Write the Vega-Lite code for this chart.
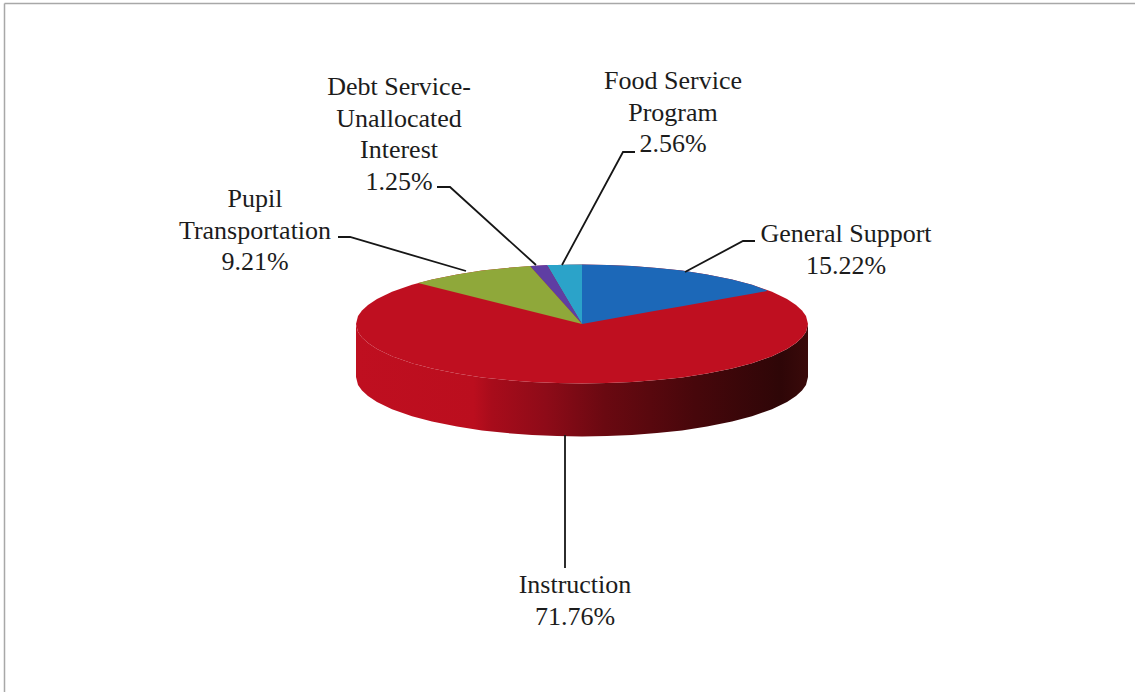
{
"$schema":"https://vega.github.io/schema/vega-lite/v6.json",
"width":1139,"height":692,"padding":0,"autosize":{"type":"none"},
"background":"#ffffff","view":{"stroke":null},
"datasets":{
"rim":[{"x":-226,"upper":0,"lower":0},{"x":-224,"upper":7.9,"lower":-7.9},{"x":-220,"upper":13.6,"lower":-13.6},{"x":-214,"upper":19.1,"lower":-19.1},{"x":-205,"upper":25,"lower":-25},{"x":-190,"upper":32.2,"lower":-32.2},{"x":-170,"upper":39.2,"lower":-39.2},{"x":-150,"upper":44.5,"lower":-44.5},{"x":-125,"upper":49.6,"lower":-49.6},{"x":-100,"upper":53.4,"lower":-53.4},{"x":-75,"upper":56.1,"lower":-56.1},{"x":-50,"upper":58,"lower":-58},{"x":-25,"upper":59.1,"lower":-59.1},{"x":0,"upper":59.5,"lower":-59.5},{"x":25,"upper":59.1,"lower":-59.1},{"x":50,"upper":58,"lower":-58},{"x":75,"upper":56.1,"lower":-56.1},{"x":100,"upper":53.4,"lower":-53.4},{"x":125,"upper":49.6,"lower":-49.6},{"x":150,"upper":44.5,"lower":-44.5},{"x":170,"upper":39.2,"lower":-39.2},{"x":190,"upper":32.2,"lower":-32.2},{"x":205,"upper":25,"lower":-25},{"x":214,"upper":19.1,"lower":-19.1},{"x":220,"upper":13.6,"lower":-13.6},{"x":224,"upper":7.9,"lower":-7.9},{"x":226,"upper":0,"lower":0}],
"side":[{"x":-226,"upper":0,"lower":-53},{"x":-224,"upper":-7.9,"lower":-60.9},{"x":-220,"upper":-13.6,"lower":-66.6},{"x":-214,"upper":-19.1,"lower":-72.1},{"x":-205,"upper":-25,"lower":-78},{"x":-190,"upper":-32.2,"lower":-85.2},{"x":-170,"upper":-39.2,"lower":-92.2},{"x":-150,"upper":-44.5,"lower":-97.5},{"x":-125,"upper":-49.6,"lower":-102.6},{"x":-100,"upper":-53.4,"lower":-106.4},{"x":-75,"upper":-56.1,"lower":-109.1},{"x":-50,"upper":-58,"lower":-111},{"x":-25,"upper":-59.1,"lower":-112.1},{"x":0,"upper":-59.5,"lower":-112.5},{"x":25,"upper":-59.1,"lower":-112.1},{"x":50,"upper":-58,"lower":-111},{"x":75,"upper":-56.1,"lower":-109.1},{"x":100,"upper":-53.4,"lower":-106.4},{"x":125,"upper":-49.6,"lower":-102.6},{"x":150,"upper":-44.5,"lower":-97.5},{"x":170,"upper":-39.2,"lower":-92.2},{"x":190,"upper":-32.2,"lower":-85.2},{"x":205,"upper":-25,"lower":-78},{"x":214,"upper":-19.1,"lower":-72.1},{"x":220,"upper":-13.6,"lower":-66.6},{"x":224,"upper":-7.9,"lower":-60.9},{"x":226,"upper":0,"lower":-53}],
"wedges":[
{"slice":"General Support","x":0,"upper":59.5,"lower":0},{"slice":"General Support","x":25,"upper":59.1,"lower":4.5},{"slice":"General Support","x":50,"upper":58,"lower":8.9},{"slice":"General Support","x":75,"upper":56.1,"lower":13.4},{"slice":"General Support","x":100,"upper":53.4,"lower":17.8},{"slice":"General Support","x":125,"upper":49.6,"lower":22.3},{"slice":"General Support","x":150,"upper":44.5,"lower":26.8},{"slice":"General Support","x":170,"upper":39.2,"lower":30.3},{"slice":"General Support","x":185,"upper":33.5,"lower":33},
{"slice":"Food Service Program","x":-35,"upper":58.9,"lower":58.9},{"slice":"Food Service Program","x":-25,"upper":59.1,"lower":42},{"slice":"Food Service Program","x":-12,"upper":59.4,"lower":20},{"slice":"Food Service Program","x":0,"upper":59.5,"lower":0},
{"slice":"Debt Service-Unallocated Interest","x":-52,"upper":57.9,"lower":57.9},{"slice":"Debt Service-Unallocated Interest","x":-35,"upper":58.9,"lower":39},{"slice":"Debt Service-Unallocated Interest","x":0,"upper":0,"lower":0},
{"slice":"Pupil Transportation","x":-164,"upper":40.9,"lower":41},{"slice":"Pupil Transportation","x":-150,"upper":44.5,"lower":37.5},{"slice":"Pupil Transportation","x":-125,"upper":49.6,"lower":31.3},{"slice":"Pupil Transportation","x":-100,"upper":53.4,"lower":25},{"slice":"Pupil Transportation","x":-75,"upper":56.1,"lower":18.8},{"slice":"Pupil Transportation","x":-52,"upper":57.9,"lower":13},{"slice":"Pupil Transportation","x":0,"upper":0,"lower":0}
],
"leaders":[
{"slice":"General Support","step":1,"x":103,"y":52},{"slice":"General Support","step":2,"x":161,"y":83},{"slice":"General Support","step":3,"x":173,"y":83},
{"slice":"Food Service Program","step":1,"x":-20,"y":59},{"slice":"Food Service Program","step":2,"x":41,"y":172},{"slice":"Food Service Program","step":3,"x":53,"y":172},
{"slice":"Debt Service","step":1,"x":-46,"y":59},{"slice":"Debt Service","step":2,"x":-132,"y":137},{"slice":"Debt Service","step":3,"x":-145,"y":137},
{"slice":"Pupil Transportation","step":1,"x":-116,"y":53},{"slice":"Pupil Transportation","step":2,"x":-232,"y":87},{"slice":"Pupil Transportation","step":3,"x":-244,"y":87},
{"slice":"Instruction","step":1,"x":-17,"y":-111},{"slice":"Instruction","step":2,"x":-17,"y":-244}
],
"labels":[
{"label":"General  Support\n15.22%","x":264,"y":82},
{"label":"Food Service\nProgram\n2.56%","x":91,"y":235},
{"label":"Debt Service-\nUnallocated\nInterest\n1.25%","x":-183,"y":229},
{"label":"Pupil\nTransportation\n9.21%","x":-327,"y":117},
{"label":"Instruction\n71.76%","x":-7,"y":-269}
],
"frame":[{"x":-577.5,"y":320.5,"x2":553,"y2":320.5},{"x":-577.5,"y":320.5,"x2":-577.5,"y2":-368}]
},
"layer":[
{"data":{"name":"frame"},"mark":{"type":"rule","stroke":"#a8a8a8","strokeWidth":1.5},
 "encoding":{"x":{"field":"x","type":"quantitative","scale":{"domain":[-582,557],"nice":false,"zero":false},"axis":null},"y":{"field":"y","type":"quantitative","scale":{"domain":[-368,324],"nice":false,"zero":false},"axis":null},"x2":{"field":"x2"},"y2":{"field":"y2"}}},
{"data":{"name":"side"},"mark":{"type":"area","fill":{"gradient":"linear","x1":0,"x2":1,"y1":0,"y2":0,"stops":[{"offset":0,"color":"#bf0f20"},{"offset":0.26,"color":"#bb0e1e"},{"offset":0.3,"color":"#a80c1b"},{"offset":0.42,"color":"#8e0b18"},{"offset":0.55,"color":"#6a0911"},{"offset":0.75,"color":"#47070b"},{"offset":0.94,"color":"#2e0607"},{"offset":1,"color":"#3a0a0a"}]}},
 "encoding":{"x":{"field":"x","type":"quantitative"},"y":{"field":"upper","type":"quantitative"},"y2":{"field":"lower"}}},
{"data":{"name":"rim"},"mark":{"type":"area","fill":"#bf0f20"},
 "encoding":{"x":{"field":"x","type":"quantitative"},"y":{"field":"upper","type":"quantitative"},"y2":{"field":"lower"}}},
{"data":{"name":"wedges"},"mark":{"type":"area"},
 "encoding":{"x":{"field":"x","type":"quantitative"},"y":{"field":"upper","type":"quantitative"},"y2":{"field":"lower"},
 "color":{"field":"slice","type":"nominal","legend":null,"scale":{"domain":["General Support","Food Service Program","Debt Service-Unallocated Interest","Pupil Transportation"],"range":["#1c68b8","#2ba3c9","#5f3ea3","#8fa83a"]}}}},
{"data":{"name":"leaders"},"mark":{"type":"line","stroke":"#161616","strokeWidth":1.8},
 "encoding":{"x":{"field":"x","type":"quantitative"},"y":{"field":"y","type":"quantitative"},"detail":{"field":"slice"},"order":{"field":"step"}}},
{"data":{"name":"labels"},"mark":{"type":"text","font":"Liberation Serif","fontSize":26,"color":"#1c1c1c","align":"center","baseline":"alphabetic","lineBreak":"\n","lineHeight":31.5},
 "encoding":{"x":{"field":"x","type":"quantitative"},"y":{"field":"y","type":"quantitative"},"text":{"field":"label"}}}
]
}
